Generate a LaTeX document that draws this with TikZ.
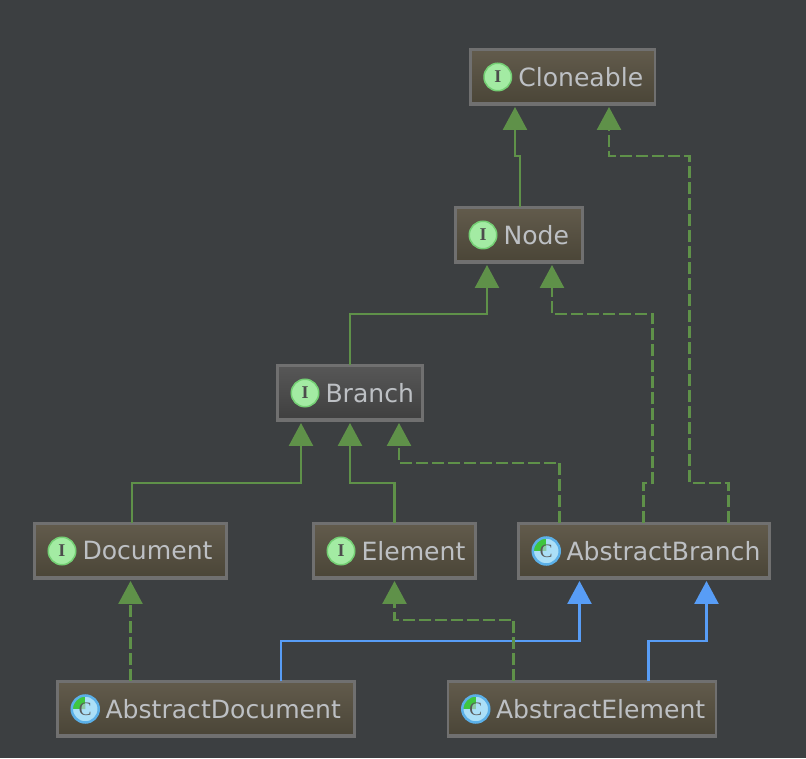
\documentclass[tikz,border=0pt]{standalone}
\usepackage{fontspec}
\setmainfont{DejaVu Sans}
\newfontfamily\iconfont{Liberation Serif}
\usepackage{tikz}
\usetikzlibrary{arrows.meta, positioning, calc}

\definecolor{canvas_bg}{HTML}{3C3F41}
\definecolor{box_top}{HTML}{625B4C}
\definecolor{box_bottom}{HTML}{4A4537}
\definecolor{sel_top}{HTML}{575757}
\definecolor{sel_bottom}{HTML}{3F3F3F}
\definecolor{box_edge}{HTML}{707070}
\definecolor{label_gray}{HTML}{BDC0C4}
\definecolor{line_green}{HTML}{5F9149}
\definecolor{line_blue}{HTML}{589DF6}
\definecolor{iface_fill}{HTML}{A3EBA3}
\definecolor{iface_ring}{HTML}{74CF74}
\definecolor{class_fill}{HTML}{ABDFF7}
\definecolor{class_ring}{HTML}{5BB0E8}
\definecolor{class_green}{HTML}{3FC63F}
\definecolor{class_inner}{HTML}{8CCBA8}

\begin{document}
\begin{tikzpicture}[
    x=1pt, y=1pt,
    box_node/.style={rectangle, draw=box_edge, line width=2.5pt, top color=box_top, bottom color=box_bottom,
        text=label_gray, font=\fontsize{25.1}{30}\selectfont, align=left, outer sep=0pt,
        inner xsep=0pt, inner ysep=0pt, minimum height=55pt, text width=#1,
        execute at begin node={\hspace*{48pt}},
        path picture={\fill[box_edge] (path picture bounding box.south west) rectangle
            ([yshift=2.5pt]path picture bounding box.south east);}},
    iface_icon/.style={circle, draw=iface_ring, line width=1.5pt, fill=iface_fill,
        minimum size=27.5pt, inner sep=0pt, text=black!70, font=\iconfont\bfseries\fontsize{18}{18}\selectfont},
    class_icon/.style={circle, draw=class_ring, line width=2.5pt, fill=class_fill,
        minimum size=27pt, inner sep=0pt, text=black!65, font=\iconfont\fontsize{19}{19}\selectfont,
        path picture={\fill[class_green] (path picture bounding box.center) --
            (path picture bounding box.west) |- (path picture bounding box.north) -- cycle;
            \fill[class_inner] (path picture bounding box.center) -- ++(-5.5,0) arc (180:90:5.5) -- cycle;}},
    ext_line/.style={-{Triangle[width=24pt,length=23pt]}, line width=2.5pt, line_green, shorten >=2.5pt},
    impl_line/.style={ext_line, dash pattern=on 12pt off 4pt},
    cls_line/.style={ext_line, line_blue}
    ]
    \fill[canvas_bg] (0,0) rectangle (806,758);
    \useasboundingbox (0,0) rectangle (806,758);

    % Nodes
    \node[box_node=184.5pt] (cloneable) at (562.5,681) {Cloneable};
    \node[box_node=127pt] (node_if) [below=103pt of cloneable, xshift=-43.5pt] {Node};
    \node[box_node=145pt, top color=sel_top, bottom color=sel_bottom] (branch) [below=103pt of node_if, xshift=-169pt] {Branch};
    \node[box_node=162pt] (element) [below=103pt of branch, xshift=44.5pt] {Element};
    \node[box_node=192pt] (document) [left=87pt of element] {Document};
    \node[box_node=251pt] (abs_branch) [right=43pt of element] {AbstractBranch};
    \node[box_node=297pt] (abs_document) [below=103pt of document, xshift=75.5pt] {AbstractDocument};
    \node[box_node=268pt] (abs_element) [below=103pt of abs_branch, xshift=-62pt] {AbstractElement};

    % Icons
    \node[iface_icon] (cloneable_icon) [right=13pt of cloneable.west] {I};
    \node[iface_icon] (node_icon) [right=13pt of node_if.west] {I};
    \node[iface_icon] (branch_icon) [right=13pt of branch.west] {I};
    \node[iface_icon] (element_icon) [right=13pt of element.west] {I};
    \node[iface_icon] (document_icon) [right=13pt of document.west] {I};
    \node[class_icon] (abs_branch_icon) [right=13pt of abs_branch.west] {C};
    \node[class_icon] (abs_document_icon) [right=13pt of abs_document.west] {C};
    \node[class_icon] (abs_element_icon) [right=13pt of abs_element.west] {C};

    % Arrows
    \draw[ext_line] ([xshift=1pt]node_if.north) -- ++(0,51.5) -| ([xshift=-47.5pt]cloneable.south);
    \draw[impl_line] ([xshift=84.5pt]abs_branch.north) -- ++(0,40.5) -- ++(-39,0) -- ++(0,327) -| ([xshift=46.5pt]cloneable.south);
    \draw[ext_line] (branch.north) -- ++(0,51.5) -| ([xshift=-32pt]node_if.south);
    \draw[impl_line] ([xshift=-0.5pt]abs_branch.north) -- ++(0,40.5) -- ++(9,0) -- ++(0,169) -| ([xshift=33pt]node_if.south);
    \draw[ext_line] ([xshift=1.5pt]document.north) -- ++(0,40.5) -| ([xshift=-49pt]branch.south);
    \draw[ext_line] (element.north) -- ++(0,40.5) -| (branch.south);
    \draw[impl_line] ([xshift=-84.5pt]abs_branch.north) -- ++(0,60.5) -| ([xshift=49pt]branch.south);
    \draw[impl_line] (abs_document.north -| document.south) -- (document.south);
    \draw[cls_line] ([xshift=75pt]abs_document.north) -- ++(0,40.5) -| ([xshift=-64.5pt]abs_branch.south);
    \draw[cls_line] ([xshift=66.5pt]abs_element.north) -- ++(0,40.5) -| ([xshift=62.5pt]abs_branch.south);
    \draw[impl_line] ([xshift=-68.5pt]abs_element.north) -- ++(0,61.5) -| (element.south);
\end{tikzpicture}
\end{document}
